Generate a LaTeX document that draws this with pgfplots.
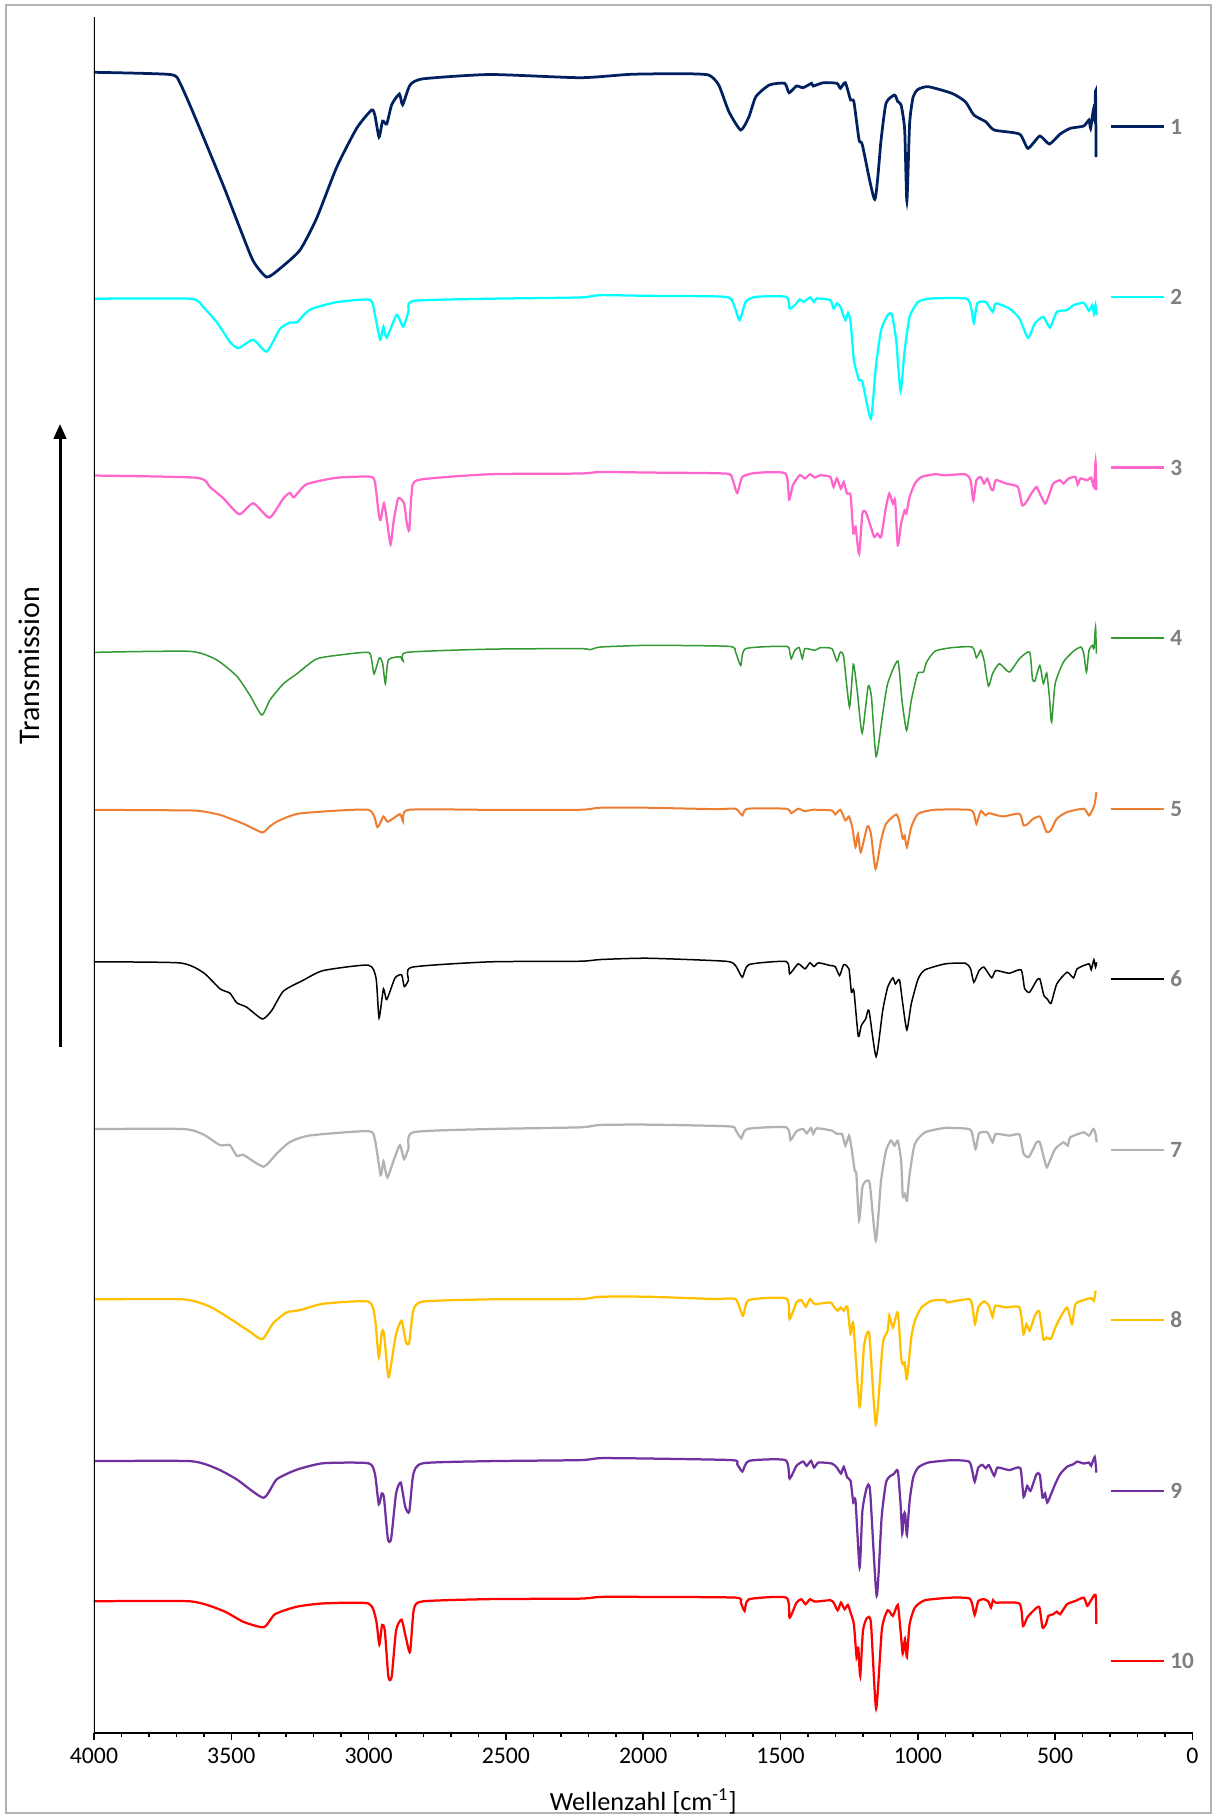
\documentclass[border=0pt]{standalone}
\usepackage{fontspec}
\setmainfont{Carlito}
\usepackage{pgfplots}
\pgfplotsset{compat=1.18}
\usetikzlibrary{arrows.meta}
\definecolor{c1}{HTML}{002060}
\definecolor{c2}{HTML}{00FFFF}
\definecolor{c3}{HTML}{FF66CC}
\definecolor{c4}{HTML}{339933}
\definecolor{c5}{HTML}{ED7D31}
\definecolor{c6}{HTML}{000000}
\definecolor{c7}{HTML}{B2B2B2}
\definecolor{c8}{HTML}{FFC000}
\definecolor{c9}{HTML}{7030A0}
\definecolor{c10}{HTML}{FF0000}
\definecolor{legendgray}{HTML}{7F7F7F}
\begin{document}
\begin{tikzpicture}
\useasboundingbox (0,0) rectangle (486.8pt,727.2pt);
\draw[gray!60, line width=0.5pt] (2.4pt,2pt) rectangle (484.4pt,725.2pt);
\begin{axis}[
  at={(37.6pt,34pt)}, anchor=south west,
  scale only axis, width=439.4pt, height=686.4pt,
  xmin=0, xmax=4000, x dir=reverse,
  ymin=-1732, ymax=-17,
  axis x line*=bottom, axis y line=none,
  x axis line style={line width=0.8pt, black},
  xtick={0,500,...,4000}, minor x tick num=4, ytick=\empty,
  tick align=outside, major tick length=2.7pt, minor tick length=1.6pt,
  every tick/.style={black, line width=0.6pt},
  /pgf/number format/assume math mode=true,
  /pgf/number format/1000 sep={},
  xticklabel style={font=\fontsize{9.5}{11}\selectfont},
  xlabel={Wellenzahl [cm\textsuperscript{-1}]},
  xlabel style={font=\fontsize{10.5}{12}\selectfont, yshift=-3pt},
  legend style={at={(0.924,0.489)}, anchor=west, draw=none, fill=none,
    inner sep=0pt, row sep=62.2pt,
    font=\fontsize{9.3}{11}\selectfont\bfseries, text=legendgray,
    nodes={inner xsep=2pt, inner ysep=0pt, text height=6pt, text depth=0pt, text=legendgray}},
  legend cell align=left,
  legend image code/.code={\draw[#1] (0pt,0pt) -- (21.2pt,0pt);},
  every axis plot/.append style={smooth, tension=0.35},
]
\addplot[c1, line width=1.1pt] coordinates {(4000,-72.3)(3723,-74.5)(3687,-83)(3626,-121)(3529,-185.5)(3468,-228.6)(3420,-261)(3371,-277)(3323,-268.5)(3250,-250)(3189,-218)(3116,-167)(3043,-128)(2989,-110)(2977,-115.4)(2962,-137)(2949,-121)(2934,-124)(2916,-104.7)(2888,-94)(2876,-104.7)(2849,-85)(2801,-78.8)(2558,-74.5)(2230,-77.7)(2045,-74.3)(1861,-73.7)(1762,-75)(1725,-85)(1688,-111.7)(1645,-130)(1615,-116.7)(1590,-96.7)(1541,-85)(1485,-83.3)(1469,-92.7)(1442,-86)(1418,-87.7)(1387,-83.3)(1381,-86)(1344,-82.7)(1295,-83.3)(1282,-88.3)(1264,-82.7)(1245,-100)(1233,-101.7)(1214,-140)(1202,-145)(1157,-199.3)(1134,-140)(1116,-103.3)(1085,-95)(1073,-101.7)(1061,-105)(1048,-130)(1040,-201)(1030,-123.3)(1017,-96.7)(999,-89.3)(962,-86.7)(876,-93.3)(827,-101.7)(796,-115)(753,-121.7)(722,-130)(630,-134)(599,-148.3)(556,-136)(521,-144)(482,-134)(445,-128.3)(396,-126)(377,-120)(371,-128.3)(361,-110)(356,-120)(353,-91)(351,-157)};
\addlegendentry{1}
\addplot[c2, line width=0.9pt] coordinates {(4000,-298.6)(3650,-298.6)(3602,-307)(3553,-322)(3505,-341.7)(3474,-348)(3420,-339.6)(3371,-351.4)(3323,-328.8)(3286,-322.3)(3262,-322.3)(3213,-309.4)(3116,-302)(2995,-299.7)(2977,-314.8)(2958,-339.6)(2946,-326.6)(2934,-337.4)(2898,-314.8)(2874,-326.6)(2855,-311.6)(2837,-300.8)(2558,-298.6)(2230,-297.3)(2156,-295)(1984,-295.7)(1701,-296.7)(1670,-305)(1649,-320)(1627,-301.7)(1590,-296.7)(1479,-296.7)(1467,-308.3)(1448,-305)(1430,-299.3)(1415,-301.7)(1393,-297.3)(1378,-301.7)(1368,-298.3)(1319,-300)(1307,-308.3)(1295,-303.3)(1282,-306.7)(1264,-320)(1254,-312.7)(1245,-321.7)(1233,-360)(1214,-380)(1202,-381.7)(1171,-418.3)(1153,-366.7)(1134,-330)(1110,-315)(1095,-314)(1079,-340)(1063,-390.7)(1048,-350)(1030,-316.7)(999,-301.7)(950,-298.3)(827,-298.3)(808,-305)(796,-322.7)(784,-303.3)(753,-301.7)(728,-311.7)(716,-303.3)(667,-308.3)(630,-318.3)(599,-337.7)(574,-323.3)(543,-316.7)(519,-327.3)(494,-311.7)(457,-310)(433,-305)(396,-302.7)(377,-310.7)(365,-305)(359,-313.3)(353,-305)(349,-315)};
\addlegendentry{2}
\addplot[c3, line width=0.9pt] coordinates {(4000,-475.3)(3626,-477.5)(3577,-487)(3529,-498)(3471,-514)(3420,-503)(3361,-517.4)(3310,-498)(3286,-492.6)(3272,-497)(3226,-484)(3116,-477.5)(2995,-476.4)(2977,-482)(2963,-514)(2956,-519.5)(2944,-503)(2932,-522.8)(2920,-544)(2908,-519.5)(2892,-498)(2871,-503)(2861,-522.8)(2852,-530)(2843,-492.6)(2819,-479.7)(2558,-474)(2230,-473.3)(2156,-471.7)(1984,-472.3)(1701,-473.3)(1676,-478.3)(1658,-492.7)(1639,-476.7)(1590,-472.7)(1482,-473.3)(1469,-499.3)(1455,-485)(1430,-475)(1411,-478.3)(1393,-474)(1375,-477.3)(1356,-475)(1319,-476.7)(1307,-486.7)(1295,-478.3)(1280,-488.3)(1270,-481.7)(1258,-493.3)(1245,-495)(1235,-533.3)(1227,-526.7)(1214,-553.3)(1202,-513.3)(1190,-511.7)(1171,-526.7)(1159,-536.7)(1147,-533.3)(1134,-536.7)(1116,-506.7)(1104,-493.3)(1091,-503.3)(1083,-500)(1073,-545)(1061,-523.3)(1048,-510)(1042,-513.3)(1030,-496.7)(1011,-483.3)(987,-476.7)(938,-474)(900,-475)(827,-474)(808,-480)(798,-500)(787,-480)(771,-476.7)(759,-483.3)(747,-478.3)(734,-488.3)(726,-490)(716,-480)(679,-483.3)(636,-486.7)(620,-505)(605,-501.7)(587,-493.3)(568,-486.7)(556,-493.3)(537,-503.3)(525,-496.7)(507,-483.3)(482,-480)(470,-483.3)(451,-478.3)(426,-476.7)(418,-484.3)(408,-478.3)(383,-480)(369,-477.3)(359,-486.7)(353,-461.7)(350,-490)};
\addlegendentry{3}
\addplot[c4, line width=0.6pt] coordinates {(4000,-652)(3650,-651)(3553,-659.6)(3480,-675.8)(3432,-695)(3389,-714.6)(3359,-699.5)(3310,-683.3)(3262,-673.6)(3189,-658.5)(3092,-654.2)(3001,-652)(2989,-659.6)(2980,-673.6)(2961,-657.5)(2949,-662.9)(2939,-683.3)(2928,-659.6)(2886,-656.4)(2874,-660.7)(2861,-652)(2558,-648.8)(2230,-648.3)(2193,-649.3)(2156,-646.7)(1984,-645)(1688,-646)(1664,-651.7)(1645,-665)(1627,-648.3)(1479,-646)(1467,-651.7)(1461,-658.3)(1448,-650)(1432,-647.3)(1421,-658.3)(1411,-648.3)(1375,-650)(1356,-647.3)(1313,-648.3)(1295,-660.7)(1282,-651.7)(1270,-656.7)(1249,-706.7)(1235,-664)(1221,-690)(1203,-732.7)(1181,-686)(1169,-696.7)(1152,-756)(1128,-713.3)(1110,-683.3)(1073,-660.7)(1058,-700)(1041,-730)(1024,-700)(1001,-673.3)(980,-671.7)(968,-661.7)(937,-650.7)(876,-647.3)(802,-646.7)(787,-657.3)(771,-650)(759,-660)(743,-685.7)(728,-673.3)(703,-663.3)(667,-671.7)(630,-658.3)(593,-651.7)(583,-678.3)(574,-680.7)(556,-665)(543,-683.3)(531,-672.7)(521,-696.7)(513,-721.7)(500,-683.3)(470,-661.7)(433,-650.7)(406,-646.7)(396,-653.3)(386,-671.7)(377,-650)(365,-645)(359,-648.3)(353,-626.7)(350,-653.3)};
\addlegendentry{4}
\addplot[c5, line width=0.8pt] coordinates {(4000,-809.4)(3650,-810)(3590,-811.6)(3540,-814.5)(3505,-818)(3450,-824)(3387,-832)(3360,-826)(3335,-821.3)(3290,-816)(3238,-812.6)(3001,-809.4)(2968,-826.7)(2946,-815.9)(2930,-821.3)(2886,-813.7)(2874,-821.3)(2855,-809.4)(2558,-809.4)(2230,-809.3)(2156,-807.3)(1984,-807.3)(1738,-808.7)(1664,-808.3)(1639,-815)(1621,-808.3)(1479,-808.3)(1461,-812.7)(1436,-808.3)(1411,-810.7)(1381,-809.3)(1313,-810)(1301,-814)(1282,-809.3)(1264,-820)(1251,-816)(1239,-826.7)(1227,-846.7)(1218,-833.3)(1208,-851.7)(1184,-826)(1171,-833.3)(1154,-868.3)(1134,-840)(1116,-823.3)(1079,-814)(1067,-821.7)(1055,-838.3)(1048,-835)(1040,-846.7)(1024,-826.7)(999,-813.3)(938,-809.3)(814,-809.3)(796,-813.3)(787,-823.3)(771,-810.7)(753,-815)(741,-812.7)(691,-816)(630,-813.3)(615,-825)(599,-823.3)(580,-818.3)(556,-816)(543,-823.3)(531,-831.7)(516,-830)(494,-818.3)(457,-811.7)(396,-808.3)(377,-815)(365,-810)(356,-803.3)(350,-791.7)};
\addlegendentry{5}
\addplot[c6, line width=0.6pt] coordinates {(4000,-961.3)(3687,-962.4)(3602,-972)(3541,-988.3)(3505,-992.6)(3480,-1002.3)(3444,-1006.6)(3387,-1018.4)(3353,-1010)(3310,-990.5)(3238,-979.7)(3165,-970)(3001,-964.6)(2973,-977.5)(2962,-1017.4)(2946,-988.3)(2934,-999)(2904,-977.5)(2880,-974.3)(2870,-986)(2855,-979.7)(2843,-966.7)(2558,-961.3)(2230,-960.7)(2156,-959)(1984,-957.7)(1701,-960.7)(1664,-965)(1639,-976.7)(1615,-964)(1479,-961)(1467,-973.3)(1436,-963.3)(1411,-968.3)(1393,-962.3)(1378,-966)(1362,-962.3)(1319,-965)(1301,-966)(1285,-975)(1270,-964)(1251,-968.3)(1242,-991.7)(1233,-990)(1217,-1035.7)(1206,-1025)(1190,-1018.3)(1178,-1010)(1152,-1056)(1128,-1010)(1110,-986.7)(1091,-977.3)(1082,-983.3)(1067,-979.3)(1055,-1003.3)(1040,-1029.3)(1024,-1003.3)(999,-978.3)(974,-969.3)(900,-963.3)(827,-962.7)(808,-968.3)(796,-981.7)(777,-970)(759,-966.7)(731,-977.3)(716,-970)(667,-972.7)(624,-969.3)(611,-988.3)(593,-991.7)(568,-980)(556,-978.3)(541,-995)(529,-998.3)(515,-1002.7)(494,-983.3)(457,-971.7)(433,-977.3)(420,-968.3)(377,-963.3)(369,-969.3)(359,-959.3)(353,-966.7)(349,-961.7)};
\addlegendentry{6}
\addplot[c7, line width=0.9pt] coordinates {(4000,-1128.4)(3675,-1128.4)(3602,-1133.8)(3541,-1144.5)(3505,-1144.5)(3480,-1155.3)(3456,-1154.2)(3383,-1166)(3335,-1153)(3286,-1141.3)(3213,-1134.8)(3001,-1130.5)(2977,-1139.2)(2956,-1174.7)(2946,-1160.7)(2932,-1176.9)(2910,-1160.7)(2886,-1144.5)(2871,-1158.5)(2855,-1147.8)(2837,-1131.6)(2558,-1128.4)(2230,-1126.7)(2156,-1124.3)(1984,-1124)(1688,-1125.7)(1664,-1129.3)(1643,-1137.7)(1621,-1128.3)(1479,-1126.7)(1464,-1139.3)(1442,-1130.7)(1418,-1128.3)(1405,-1132.7)(1389,-1127.3)(1381,-1133.3)(1368,-1127.7)(1313,-1130)(1295,-1133.3)(1276,-1133.3)(1264,-1145)(1251,-1135)(1242,-1146.7)(1230,-1170)(1224,-1173.3)(1214,-1219.3)(1202,-1186.7)(1190,-1180.7)(1175,-1183.3)(1153,-1240)(1134,-1180)(1116,-1150)(1098,-1140)(1085,-1145)(1073,-1140)(1061,-1160)(1055,-1195)(1048,-1193.3)(1040,-1200)(1030,-1173.3)(1011,-1143.3)(974,-1131.7)(900,-1127.3)(814,-1128.3)(802,-1133.3)(790,-1148.3)(777,-1132.7)(747,-1131.7)(728,-1141.7)(716,-1133.3)(667,-1135)(630,-1134)(615,-1153.3)(595,-1156)(568,-1141.7)(556,-1141.7)(543,-1155)(531,-1166.7)(519,-1160)(500,-1148.3)(470,-1141.7)(454,-1145)(445,-1136.7)(396,-1131.7)(377,-1135)(361,-1128.3)(353,-1133.3)(349,-1141.7)};
\addlegendentry{7}
\addplot[c8, line width=0.9pt] coordinates {(4000,-1298.6)(3675,-1298.6)(3577,-1306)(3493,-1320)(3432,-1331)(3387,-1338.5)(3347,-1322.3)(3298,-1311.6)(3250,-1309.4)(3165,-1303)(3001,-1300.8)(2977,-1317)(2963,-1356.8)(2952,-1331)(2944,-1333.2)(2928,-1376.2)(2916,-1360)(2900,-1333.2)(2880,-1320)(2864,-1341.7)(2852,-1341.7)(2837,-1309.4)(2801,-1300.8)(2558,-1298.6)(2230,-1298.3)(2156,-1296)(1984,-1296)(1738,-1298.3)(1664,-1298.3)(1637,-1315)(1615,-1299.3)(1479,-1297.7)(1467,-1318.3)(1442,-1301.7)(1424,-1299.3)(1408,-1306)(1393,-1298.3)(1375,-1303.3)(1319,-1301.7)(1304,-1306.7)(1292,-1310)(1282,-1306.7)(1270,-1310)(1257,-1306)(1245,-1333.3)(1235,-1323.3)(1212,-1406)(1196,-1345)(1177,-1333.3)(1153,-1423.3)(1128,-1343.3)(1110,-1330)(1104,-1315)(1091,-1326.7)(1073,-1311.7)(1061,-1356.7)(1055,-1363.3)(1048,-1361.7)(1040,-1378.3)(1024,-1336.7)(1011,-1320)(987,-1306.7)(950,-1300)(900,-1299.3)(894,-1301.7)(814,-1298.3)(802,-1305)(792,-1323.3)(780,-1306.7)(759,-1300.7)(741,-1305)(728,-1316)(718,-1305)(679,-1306.7)(630,-1306.7)(615,-1333.3)(605,-1323.3)(593,-1330)(574,-1315)(558,-1310.7)(543,-1338.3)(531,-1336.7)(516,-1338.3)(494,-1323.3)(457,-1306.7)(439,-1323.3)(426,-1303.3)(396,-1299.3)(369,-1297.3)(359,-1300)(353,-1290)};
\addlegendentry{8}
\addplot[c9, line width=0.9pt] coordinates {(4000,-1460.3)(3650,-1460.3)(3553,-1467.8)(3480,-1478.6)(3383,-1496.9)(3335,-1478.6)(3262,-1468.9)(3165,-1462.4)(3001,-1462.4)(2977,-1473.2)(2963,-1503.4)(2952,-1492.6)(2944,-1496.9)(2930,-1537.9)(2918,-1537.9)(2900,-1492.6)(2883,-1481.8)(2867,-1505.6)(2852,-1511)(2837,-1473.2)(2801,-1462.4)(2558,-1460.3)(2230,-1459.3)(2156,-1457.3)(1984,-1457.7)(1676,-1459.3)(1658,-1463.3)(1639,-1470.7)(1615,-1460)(1482,-1459.3)(1467,-1477.7)(1442,-1465)(1418,-1460.7)(1405,-1465)(1389,-1460)(1378,-1466.7)(1362,-1461.7)(1313,-1462.7)(1295,-1466.7)(1280,-1472.7)(1270,-1466)(1257,-1476.7)(1245,-1480)(1235,-1501.7)(1227,-1500)(1212,-1566.7)(1202,-1510)(1186,-1486.7)(1174,-1490)(1150,-1595)(1132,-1516.7)(1116,-1481.7)(1100,-1475)(1088,-1473.3)(1073,-1470)(1063,-1503.3)(1057,-1532.7)(1051,-1513.3)(1046,-1513.3)(1040,-1534)(1030,-1500)(1017,-1476.7)(999,-1466.7)(962,-1461.7)(876,-1459.3)(814,-1460.7)(802,-1470)(793,-1480.7)(780,-1466.7)(765,-1464)(753,-1467.3)(741,-1464.3)(722,-1475)(710,-1466.7)(667,-1469.3)(627,-1467.3)(615,-1496)(602,-1485)(590,-1490)(568,-1473.3)(556,-1474)(546,-1496.7)(537,-1492.7)(529,-1501.7)(519,-1496)(500,-1483.3)(482,-1473.3)(457,-1466)(433,-1463.3)(420,-1460.7)(396,-1462.7)(377,-1461.7)(369,-1465)(356,-1456)(350,-1471.7)};
\addlegendentry{9}
\addplot[c10, line width=0.9pt] coordinates {(4000,-1600.4)(3650,-1600.4)(3529,-1610)(3456,-1620.9)(3381,-1626.3)(3341,-1613.3)(3262,-1605.8)(3165,-1602.5)(3001,-1602.5)(2973,-1618.7)(2961,-1643.5)(2951,-1624)(2941,-1629.5)(2928,-1675.8)(2916,-1675.8)(2900,-1629.5)(2880,-1618.7)(2864,-1637)(2849,-1651)(2835,-1608)(2801,-1600.4)(2558,-1598.2)(2230,-1597.7)(2156,-1596)(1984,-1596)(1664,-1596.7)(1645,-1601.7)(1631,-1610)(1615,-1598.3)(1479,-1596.7)(1467,-1616.7)(1442,-1601.7)(1424,-1598.3)(1409,-1603.3)(1393,-1598.3)(1375,-1600.7)(1319,-1599.3)(1307,-1601.7)(1292,-1609.3)(1280,-1601.7)(1267,-1608.3)(1255,-1604)(1245,-1611.7)(1233,-1623.3)(1223,-1656.7)(1217,-1646.7)(1210,-1675)(1200,-1630)(1186,-1617.3)(1171,-1621.7)(1152,-1707.7)(1131,-1628.3)(1110,-1609.3)(1091,-1615)(1073,-1604)(1063,-1630)(1055,-1652.7)(1047,-1638.3)(1040,-1656)(1030,-1623.3)(1011,-1606.7)(974,-1599.3)(876,-1596.7)(814,-1597.3)(802,-1603.3)(793,-1614)(780,-1600)(759,-1598.3)(743,-1600.7)(734,-1606.7)(726,-1599.3)(716,-1601.7)(630,-1602.7)(617,-1625)(602,-1616.7)(580,-1610)(558,-1606)(546,-1626.7)(533,-1622.7)(525,-1615)(507,-1613.3)(494,-1610.7)(482,-1613.3)(457,-1603.3)(426,-1600)(396,-1596.7)(383,-1605)(371,-1600)(353,-1594)(350,-1623.3)};
\addlegendentry{10}
\draw[black, line width=0.9pt] (axis cs:4000,-1732) -- (axis cs:4000,-17);
\end{axis}
\draw[black, line width=1.2pt, -{Triangle[width=5pt,length=6pt]}] (24pt,308.4pt) -- (24pt,557.6pt);
\node[rotate=90, font=\fontsize{12}{14}\selectfont] at (11.6pt,461pt) {Transmission};
\end{tikzpicture}
\end{document}
